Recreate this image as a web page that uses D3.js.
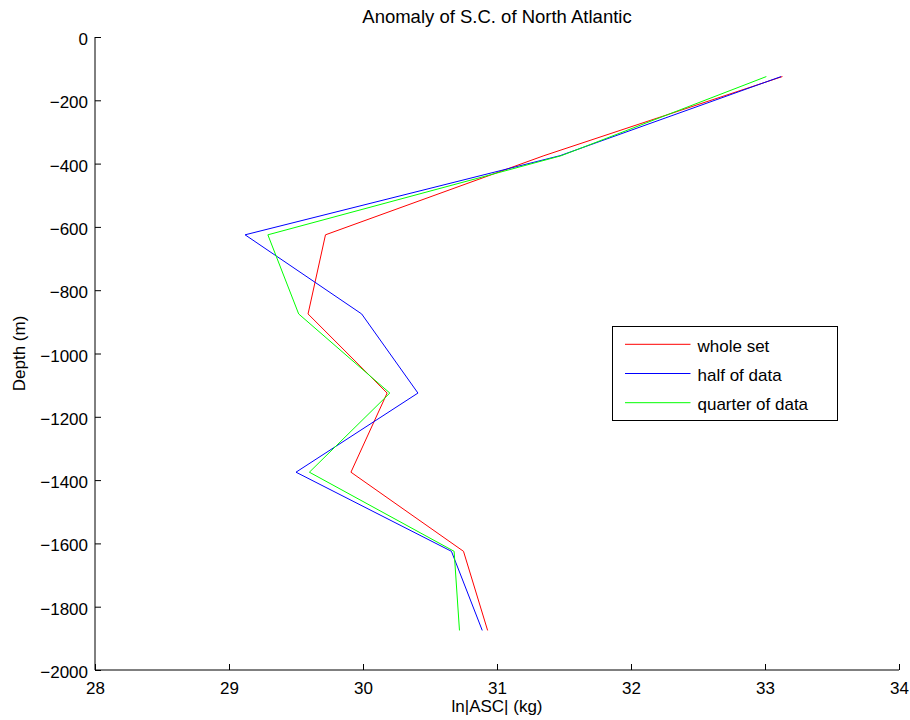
<!DOCTYPE html>
<html>
<head>
<meta charset="utf-8">
<script src="https://cdn.jsdelivr.net/npm/d3@7"></script>
<style>
  html, body { margin: 0; padding: 0; background: #fff; }
  svg text { font-family: "Liberation Sans", Arial, sans-serif; fill: #000; }
</style>
</head>
<body>
<svg id="chart" width="910" height="720"></svg>
<script>
// Depth levels (m) and ln|ASC| for each data subset
const depths = [-125, -375, -625, -875, -1125, -1375, -1625, -1875];
const wholeSet = [33.13, 31.35, 29.72, 29.59, 30.18, 29.91, 30.75, 30.93];
const halfData = [33.12, 31.47, 29.12, 29.99, 30.41, 29.50, 30.66, 30.89];
const quarterData = [33.01, 31.48, 29.29, 29.52, 30.20, 29.60, 30.68, 30.72];

const seriesNames = ["whole set", "half of data", "quarter of data"];
const seriesColors = ["#ff0000", "#0000ff", "#00ff00"];
const xTicks = [28, 29, 30, 31, 32, 33, 34];
const yTicks = [0, -200, -400, -600, -800, -1000, -1200, -1400, -1600, -1800, -2000];

const series = [wholeSet, halfData, quarterData];

const svg = d3.select("#chart");
const plotLeft = 95, plotRight = 899, plotTop = 37, plotBottom = 670;
const labelSize = 17;

const x = d3.scaleLinear().domain([28, 34]).range([plotLeft, plotRight]);
const y = d3.scaleLinear().domain([-2000, 0]).range([plotBottom, plotTop]);

// Bottom axis, ticks pointing inward
const xAxis = svg.append("g")
  .attr("transform", `translate(0,${plotBottom})`)
  .call(d3.axisBottom(x).tickValues(xTicks).tickSize(-6).tickFormat(d3.format("d")));
xAxis.select(".domain").attr("stroke", "#000").attr("d", `M${plotLeft},0H${plotRight}`);
xAxis.selectAll(".tick line").attr("stroke", "#000");
xAxis.selectAll(".tick text").attr("font-size", labelSize).attr("dy", null).attr("y", 24);

// Left axis, ticks pointing inward
const yAxis = svg.append("g")
  .attr("transform", `translate(${plotLeft},0)`)
  .call(d3.axisLeft(y).tickValues(yTicks).tickSize(-6).tickPadding(7)
    .tickFormat(d => d === 0 ? "0" : "\u2212" + Math.abs(d)));
yAxis.select(".domain").attr("stroke", "#000").attr("d", `M0,${plotTop}V${plotBottom}`);
yAxis.selectAll(".tick line").attr("stroke", "#000");
yAxis.selectAll(".tick text").attr("font-size", labelSize).attr("dy", null).attr("y", 7.5);

// Profiles
const line = d3.line()
  .x(d => x(d[0]))
  .y(d => y(d[1]));

series.forEach((vals, i) => {
  svg.append("path")
    .datum(vals.map((v, k) => [v, depths[k]]))
    .attr("fill", "none")
    .attr("stroke", seriesColors[i])
    .attr("stroke-width", 1)
    .attr("d", line);
});

// Title and axis labels
svg.append("text")
  .attr("x", (plotLeft + plotRight) / 2).attr("y", 23)
  .attr("text-anchor", "middle").attr("font-size", 18.5)
  .text("Anomaly of S.C. of North Atlantic");

svg.append("text")
  .attr("x", (plotLeft + plotRight) / 2).attr("y", 712)
  .attr("text-anchor", "middle").attr("font-size", labelSize)
  .text("ln|ASC| (kg)");

svg.append("text")
  .attr("transform", `translate(25,${(plotTop + plotBottom) / 2}) rotate(-90)`)
  .attr("text-anchor", "middle").attr("font-size", labelSize)
  .text("Depth (m)");

// Legend
const legend = svg.append("g").attr("transform", "translate(612.5,326.5)");
legend.append("rect")
  .attr("width", 225).attr("height", 94)
  .attr("fill", "#fff").attr("stroke", "#000").attr("stroke-width", 1);
seriesNames.forEach((name, i) => {
  const ly = 17.8 + i * 29.2;
  legend.append("line")
    .attr("x1", 12.5).attr("x2", 78).attr("y1", ly).attr("y2", ly)
    .attr("stroke", seriesColors[i]).attr("stroke-width", 1);
  legend.append("text")
    .attr("x", 85).attr("y", ly + 7.4)
    .attr("font-size", labelSize)
    .text(name);
});
</script>
</body>
</html>
